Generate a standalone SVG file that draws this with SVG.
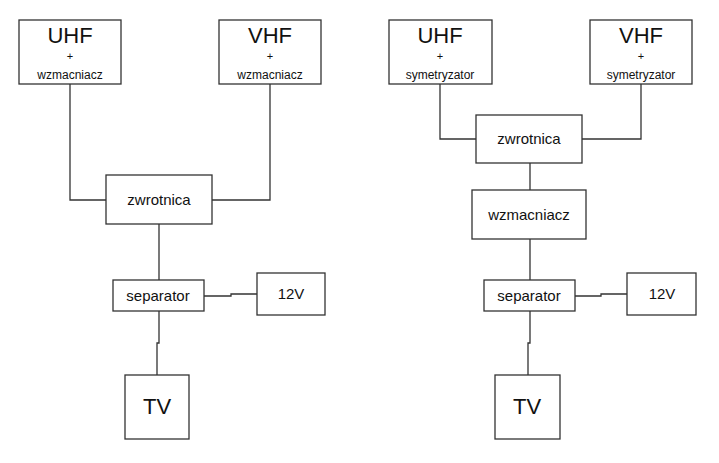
<svg xmlns="http://www.w3.org/2000/svg" width="719" height="463" viewBox="0 0 719 463">
<style>
rect{fill:#fff;stroke:#333;stroke-width:1.3}
text{font-family:"Liberation Sans",Arial,sans-serif;fill:#111;text-anchor:middle}
.b{font-size:22px}.s{font-size:12px}.p{font-size:11px}.m{font-size:15px}
#conn path{fill:none;stroke:#333;stroke-width:1.3}
</style>
<rect width="719" height="463" style="fill:#fff;stroke:none"/>
<g id="conn">
<path d="M70 84V200H106M270 84V200H212M159 224V280M204 296H231V294H257M159 311V343H157V375"/>
<path d="M440 84V139H476M641 84V139H582M530 163V190M530 239V280M575 296H601V294H627M530 311V343H528V375"/>
</g>
<g id="uhf1"><rect x="19" y="20" width="102" height="64"/><text class="b" x="70" y="43">UHF</text><text class="p" x="70" y="60">+</text><text class="s" x="70" y="79">wzmacniacz</text></g>
<g id="vhf1"><rect x="219" y="20" width="102" height="64"/><text class="b" x="270" y="43">VHF</text><text class="p" x="270" y="60">+</text><text class="s" x="270" y="79">wzmacniacz</text></g>
<g id="zwr1"><rect x="106" y="175" width="106" height="49"/><text class="m" x="159" y="205">zwrotnica</text></g>
<g id="sep1"><rect x="113" y="280" width="91" height="31"/><text class="m" x="158" y="301">separator</text></g>
<g id="v12a"><rect x="257" y="273" width="68" height="42"/><text class="m" x="291" y="299">12V</text></g>
<g id="tv1"><rect x="125" y="375" width="64" height="64"/><text class="b" x="157" y="414">TV</text></g>
<g id="uhf2"><rect x="389" y="20" width="103" height="64"/><text class="b" x="440" y="43">UHF</text><text class="p" x="440" y="60">+</text><text class="s" x="440" y="79">symetryzator</text></g>
<g id="vhf2"><rect x="590" y="20" width="102" height="64"/><text class="b" x="641" y="43">VHF</text><text class="p" x="641" y="60">+</text><text class="s" x="641" y="79">symetryzator</text></g>
<g id="zwr2"><rect x="476" y="115" width="106" height="48"/><text class="m" x="529" y="144">zwrotnica</text></g>
<g id="wzm2"><rect x="472" y="190" width="114" height="49"/><text class="m" x="529" y="220">wzmacniacz</text></g>
<g id="sep2"><rect x="484" y="280" width="91" height="31"/><text class="m" x="529" y="301">separator</text></g>
<g id="v12b"><rect x="627" y="273" width="69" height="42"/><text class="m" x="662" y="299">12V</text></g>
<g id="tv2"><rect x="495" y="375" width="65" height="64"/><text class="b" x="527" y="414">TV</text></g>
</svg>
